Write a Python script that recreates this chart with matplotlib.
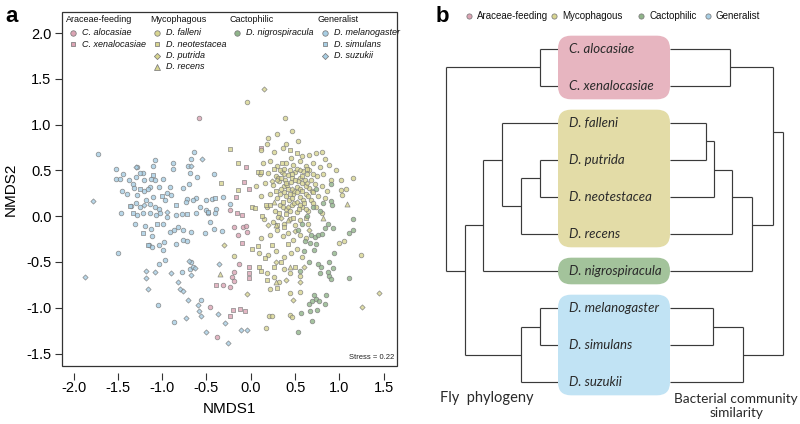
import numpy as np
import matplotlib.pyplot as plt
from matplotlib.patches import FancyBboxPatch, Rectangle

# =====================================================
# DATA  (panel a: NMDS scores)
# =====================================================

alocasiae = [(-0.58, 1.07), (-0.19, -0.12), (-0.14, -0.21), (-0.09, -0.12), (-0.05, -0.11),
             (-0.04, -0.17), (-0.13, -0.52), (-0.19, -0.61), (-0.21, -0.66), (-0.19, -0.71),
             (-0.31, -0.75), (-0.24, -0.77), (-0.46, -0.99), (-0.38, -1.32), (-0.24, 0.07)]

xenalocasiae = [(0.11, 0.75), (-0.05, 0.54), (-0.08, 0.37), (-0.02, 0.30), (-0.17, 0.21),
                (-0.15, 0.04), (-0.10, 0.01), (-0.10, -0.29), (-0.02, -0.55), (-0.02, -0.62),
                (-0.02, -0.68), (-0.39, -0.75), (-0.20, -1.02), (-0.12, -1.01), (-0.06, -1.03),
                (-0.24, -1.09)]

falleni = [(-0.04, 1.25), (0.39, 1.07), (0.30, 0.90), (0.47, 0.93), (0.20, 0.85), (0.53, 0.82),
           (0.18, 0.79), (0.40, 0.79),
           (0.12, 0.72), (0.26, 0.70), (0.36, 0.74), (0.58, 0.66), (0.66, 0.67), (0.74, 0.69),
           (0.80, 0.70), (0.84, 0.62), (0.45, 0.64),
           (0.14, 0.58), (0.22, 0.60), (0.30, 0.55), (0.40, 0.58), (0.48, 0.56), (0.56, 0.60),
           (0.62, 0.55), (0.70, 0.58), (0.78, 0.54), (0.88, 0.56), (0.96, 0.50),
           (0.10, 0.46), (0.20, 0.47), (0.28, 0.44), (0.35, 0.48), (0.42, 0.45), (0.50, 0.48),
           (0.55, 0.42), (0.63, 0.46), (0.68, 0.40), (0.75, 0.44), (0.82, 0.46), (0.90, 0.40),
           (1.02, 0.39), (1.15, 0.42),
           (0.06, 0.33), (0.16, 0.36), (0.25, 0.34), (0.32, 0.38), (0.38, 0.33), (0.45, 0.37),
           (0.52, 0.32), (0.58, 0.36), (0.66, 0.31), (0.72, 0.35), (0.80, 0.33), (0.86, 0.28),
           (1.02, 0.29), (1.08, 0.30),
           (0.12, 0.22), (0.22, 0.24), (0.30, 0.20), (0.37, 0.26), (0.43, 0.18), (0.48, 0.24),
           (0.55, 0.21), (0.62, 0.24), (0.68, 0.18), (0.76, 0.22), (0.84, 0.20), (1.03, 0.23),
           (0.18, 0.10), (0.27, 0.06), (0.33, 0.12), (0.40, 0.08), (0.46, 0.12), (0.52, 0.05),
           (0.58, 0.10), (0.65, 0.06), (0.74, 0.10), (0.80, 0.04),
           (0.15, -0.03), (0.25, -0.06), (0.31, -0.01), (0.38, -0.08), (0.44, -0.03),
           (0.50, -0.10), (0.56, -0.04), (0.65, -0.08),
           (0.12, -0.24), (0.22, -0.20), (0.30, -0.15), (0.36, -0.22), (0.42, -0.18),
           (0.48, -0.26), (0.55, -0.20), (0.62, -0.24), (0.99, -0.29), (1.05, -0.27),
           (-0.19, -0.43), (0.09, -0.40), (0.20, -0.42), (0.28, -0.38), (0.37, -0.45),
           (0.45, -0.40), (0.52, -0.36), (0.58, -0.45), (1.24, -0.42),
           (0.18, -0.62), (0.26, -0.66), (0.38, -0.58), (0.44, -0.62), (0.56, -0.65),
           (0.44, -0.84), (0.56, -0.83), (0.22, -0.80), (0.32, -0.72),
           (0.17, -1.22), (0.21, -1.09), (0.24, -1.09), (0.44, -1.08), (0.46, -1.10),
           # dense core
           (0.33, 0.50), (0.38, 0.52), (0.44, 0.50), (0.52, 0.52), (0.59, 0.49), (0.66, 0.50),
           (0.31, 0.42), (0.39, 0.40), (0.47, 0.42), (0.53, 0.38), (0.61, 0.40), (0.70, 0.46),
           (0.34, 0.30), (0.41, 0.34), (0.49, 0.28), (0.56, 0.30), (0.62, 0.33), (0.69, 0.28),
           (0.33, 0.24), (0.40, 0.22), (0.46, 0.20), (0.52, 0.26), (0.59, 0.18), (0.65, 0.22),
           (0.36, 0.10), (0.44, 0.06), (0.49, 0.14), (0.56, 0.12), (0.62, 0.08), (0.70, 0.14)]

neotestacea = [(-0.24, 0.73), (-0.14, 0.58), (-0.34, 0.36), (-0.14, 0.29), (0.01, 0.10),
               (0.05, 0.09), (0.17, 0.12), (0.13, 0.00), (0.08, 0.48), (0.11, 0.48),
               (0.44, 0.72), (0.52, 0.69), (0.26, 0.52), (0.34, 0.42), (0.42, 0.30),
               (0.50, 0.40), (0.58, 0.28), (0.36, 0.16), (0.44, 0.24), (0.28, 0.28),
               (0.60, 0.14), (0.22, 0.12), (0.40, 0.02), (0.30, -0.10), (0.48, -0.02),
               (0.08, -0.33), (0.16, -0.46), (0.01, -0.36), (0.09, -0.55), (0.12, -0.60),
               (0.18, -0.70), (0.26, -0.56), (0.30, -0.78), (0.34, -0.50), (0.42, -0.30),
               (0.50, -0.55), (0.24, -0.32), (0.38, -0.12), (0.62, -0.02), (0.70, 0.26),
               (0.35, 0.58), (0.64, 0.52), (0.46, 0.46), (0.40, 0.36), (0.54, 0.08),
               (0.32, 0.04), (0.58, 0.44)]

putrida = [(0.15, 1.39), (-0.30, -0.32), (-0.04, -0.85), (0.55, -0.72), (0.48, -0.92),
           (1.45, -0.84), (1.26, -0.99), (0.30, 0.40), (0.46, 0.30), (0.38, 0.46),
           (0.56, 0.50), (0.24, 0.38), (0.64, 0.36), (0.42, 0.10), (0.52, 0.16),
           (0.34, -0.02), (0.50, -0.16), (0.20, -0.10), (0.66, -0.15), (0.28, -0.50),
           (0.40, -0.70), (0.60, -0.55)]

recens = [(-0.35, -0.63), (1.09, 0.13), (0.29, -0.72), (0.28, -0.10), (0.42, -0.04),
          (0.26, 0.16), (0.44, -0.55), (0.82, -0.02)]

nigrospiracula = [(0.53, -0.15), (0.61, -0.27), (0.67, -0.29), (0.68, -0.21), (0.72, -0.23),
                  (0.76, -0.21), (0.80, -0.19), (0.74, -0.30), (0.84, -0.13), (0.87, -0.08),
                  (0.93, -0.13), (0.71, -0.37), (0.66, -0.50), (0.76, -0.52), (0.79, -0.55),
                  (0.88, -0.50), (0.78, -0.62), (0.87, -0.61), (0.88, -0.65), (0.93, -0.57),
                  (0.94, -0.40), (0.90, -0.69), (1.11, -0.67), (0.71, -0.86), (0.74, -0.90),
                  (0.69, -0.93), (0.66, -0.96), (0.77, -0.93), (0.85, -0.86), (0.84, -0.96),
                  (0.75, -1.02), (0.67, -1.03), (0.57, -1.06), (0.69, -1.14), (0.53, -1.26),
                  (1.11, -0.18), (1.15, -0.15), (1.15, -0.03), (0.92, 0.12), (0.91, 0.35),
                  (0.91, 0.17), (0.70, 0.10), (0.78, 0.06), (0.64, 0.00), (0.58, -0.08),
                  (0.82, 0.14), (0.74, 0.30), (0.60, -0.38), (0.56, -0.60)]

melanogaster = [(-1.72, 0.68),
                (-1.52, 0.51), (-1.28, 0.54), (-1.08, 0.61), (-1.10, 0.55), (-1.22, 0.47),
                (-0.88, 0.58), (-0.88, 0.52), (-0.71, 0.55), (-0.67, 0.62), (-0.64, 0.70),
                (-0.41, 0.46),
                (-1.52, 0.41), (-1.47, 0.41), (-1.44, 0.46), (-1.37, 0.40), (-1.33, 0.35),
                (-1.30, 0.43), (-1.25, 0.47), (-1.20, 0.40), (-1.13, 0.41), (-1.08, 0.40),
                (-0.99, 0.41), (-1.14, 0.32), (-1.03, 0.32), (-0.91, 0.32), (-0.69, 0.47),
                (-0.61, 0.43), (-0.77, 0.31), (-0.70, 0.35),
                (-1.45, 0.28), (-1.40, 0.24), (-1.32, 0.31), (-1.28, 0.23), (-1.21, 0.27),
                (-1.16, 0.30), (-1.18, 0.18), (-1.10, 0.21), (-0.95, 0.25), (-0.90, 0.23),
                (-0.97, 0.18), (-0.72, 0.19), (-0.62, 0.20), (-0.51, 0.18), (-0.44, 0.19),
                (-0.31, 0.21), (-0.24, 0.13),
                (-1.35, 0.11), (-1.30, 0.14), (-1.25, 0.10), (-1.14, 0.13), (-1.08, 0.10),
                (-1.03, 0.08), (-0.73, 0.16), (-0.65, 0.18), (-0.57, 0.10), (-0.50, 0.07),
                (-0.39, 0.08),
                (-1.46, 0.04), (-1.28, 0.01), (-1.22, 0.03), (-1.14, 0.04), (-1.07, 0.01),
                (-1.02, 0.03), (-0.94, -0.01), (-0.84, 0.01), (-0.78, 0.02), (-0.62, 0.03),
                (-0.48, 0.03), (-0.40, 0.04),
                (-1.31, -0.08), (-1.19, -0.11), (-1.13, -0.14), (-0.99, -0.08), (-0.91, -0.17),
                (-0.87, -0.15), (-0.82, -0.12), (-0.77, -0.15), (-0.67, -0.17), (-0.52, -0.18),
                (-0.46, -0.06), (-0.41, -0.14), (-0.33, -0.16),
                (-1.11, -0.22), (-1.15, -0.31), (-1.03, -0.31), (-0.98, -0.28), (-0.84, -0.30),
                (-0.77, -0.26), (-0.72, -0.27), (-1.50, -0.40),
                (-1.11, -0.34), (-0.99, -0.37), (-0.97, -0.48), (-1.04, -0.52), (-0.78, -0.61),
                (-0.69, -0.58), (-0.67, -0.50), (-0.65, -0.55), (-0.56, -0.91), (-1.05, -0.97),
                (-0.87, -1.16)]

simulans = [(-1.36, 0.11), (-1.33, 0.04), (-1.22, -0.18), (-1.16, -0.31), (-1.06, -0.08),
            (-1.25, 0.30), (-1.00, 0.22), (-0.84, 0.12), (-0.48, 0.05), (-1.10, 0.45),
            (-0.72, 0.02), (-0.40, 0.20)]

suzukii = [(-1.87, -0.66), (-1.78, 0.17), (-0.55, 0.63), (-1.08, -0.61), (-1.18, -0.60),
           (-1.18, -0.68), (-1.16, -0.80), (-0.90, -0.62), (-0.70, -0.49), (-0.63, -0.57),
           (-0.68, -0.64), (-0.82, -0.72), (-0.80, -0.79), (-0.76, -0.82), (-0.71, -0.92),
           (-0.60, -0.97), (-0.58, -1.03), (-0.56, -1.09), (-0.73, -1.11), (-0.50, -1.26),
           (-0.29, -1.17), (-0.26, -1.39), (-0.37, -1.07), (-0.11, -1.24), (-0.04, -1.24),
           (-0.36, -0.52), (-1.30, 0.54), (-0.68, 0.55), (-1.20, 0.12), (-0.95, 0.05)]

groups = ["Araceae-feeding", "Mycophagous", "Cactophilic", "Generalist"]
group_col = ["#dca4b4", "#d8d590", "#8fb489", "#a7cee4"]
box_col = ["#e7b5c0", "#e3dca7", "#a3c39b", "#c1e3f4"]

# (group index, label, marker, points)
species = [
    (0, "C. alocasiae", "o", alocasiae),
    (0, "C. xenalocasiae", "s", xenalocasiae),
    (1, "D. falleni", "o", falleni),
    (1, "D. neotestacea", "s", neotestacea),
    (1, "D. putrida", "D", putrida),
    (1, "D. recens", "^", recens),
    (2, "D. nigrospiracula", "o", nigrospiracula),
    (3, "D. melanogaster", "o", melanogaster),
    (3, "D. simulans", "s", simulans),
    (3, "D. suzukii", "D", suzukii),
]
marker_size = {"o": 11, "s": 9, "D": 7, "^": 13}

x_ticks = [-2.0, -1.5, -1.0, -0.5, 0.0, 0.5, 1.0, 1.5]
y_ticks = [-1.5, -1.0, -0.5, 0.0, 0.5, 1.0, 1.5, 2.0]
stress = 0.22

# panel b: leaves (top to bottom) and the two trees
leaf_names = ["C. alocasiae", "C. xenalocasiae", "D. falleni", "D. putrida",
              "D. neotestacea", "D. recens", "D. nigrospiracula",
              "D. melanogaster", "D. simulans", "D. suzukii"]
leaf_group = [0, 0, 1, 1, 1, 1, 2, 3, 3, 3]

# node: (child, child, level, y where it joins its parent)
fly_tree = {
    "ara": (0, 1, 5, 0.5),
    "pn": (3, 4, 5, 3.5),
    "pnr": ("pn", 5, 4, 4.24),
    "myc": (2, "pnr", 3, 3.0),
    "mc": ("myc", 6, 2, 4.76),
    "ms": (7, 8, 5, 7.5),
    "gen": ("ms", 9, 4, 8.27),
    "rest": ("mc", "gen", 1, 6.0),
    "root": ("ara", "rest", 0, None),
}

# node: (child, child, distance, y where it joins its parent)
bact_tree = {
    "ara": (0, 1, 60, 0.5),
    "fp": (2, 3, 36, 2.5),
    "fpn": ("fp", 4, 44, 3.27),
    "myc": ("fpn", 5, 62, 4.0),
    "mc": ("myc", 6, 82, 4.76),
    "top": ("ara", "mc", 103, 2.24),
    "ms": (7, 8, 43, 7.5),
    "gen": ("ms", 9, 73, 8.27),
    "root": ("top", "gen", 113, None),
}

# =====================================================
# FIGURE
# =====================================================

plt.rcParams["font.family"] = ["Liberation Sans", "DejaVu Sans"]

fig = plt.figure(figsize=(8, 4.24), dpi=100)

# ---------------- panel a ----------------
ax = fig.add_axes([0.0775, 0.1368, 0.41875, 0.8349])

for g, name, m, pts in species:
    p = np.array(pts)
    ax.scatter(p[:, 0], p[:, 1], s=marker_size[m], marker=m,
               facecolor=group_col[g], edgecolor="#7a7a7a", linewidth=0.55,
               alpha=0.8, zorder=3)

ax.set_xlim(-2.13, 1.65)
ax.set_ylim(-1.636, 2.23)
ax.set_xticks(x_ticks)
ax.set_yticks(y_ticks)
ax.set_xticklabels([f"{v:.1f}" for v in x_ticks])
ax.set_yticklabels([f"{v:.1f}" for v in y_ticks])
ax.tick_params(axis="both", direction="out", length=5, width=0.8,
               labelsize=10.5, color="#333333")
ax.tick_params(axis="x", pad=1)
ax.tick_params(axis="y", pad=2.5)

# R style: ticks below a detached x axis, full box around plot
ax.spines["bottom"].set_position(("outward", 5))
ax.spines["bottom"].set_color("none")
for s in ["top", "right", "left"]:
    ax.spines[s].set_visible(False)
ax.add_patch(Rectangle((0, 0), 1, 1, transform=ax.transAxes, fill=False,
                       edgecolor="#333333", linewidth=0.9, clip_on=False, zorder=5))

ax.set_xlabel("NMDS1", fontsize=11, labelpad=5)
ax.set_ylabel("NMDS2", fontsize=11, labelpad=6)

ax.text(0.991, 0.025, f"Stress = {stress}", transform=ax.transAxes,
        ha="right", va="center", fontsize=5.5, color="#222222")

# legend in four columns
col_x = [0.012, 0.263, 0.501, 0.764]
for g, gname in enumerate(groups):
    ax.text(col_x[g], 0.980, gname, transform=ax.transAxes, fontsize=6.5,
            ha="left", va="center", color="#111111")
    rows = [sp for sp in species if sp[0] == g]
    for r, (_, name, m, _) in enumerate(rows):
        yy = 0.941 - r * 0.032
        ax.scatter([col_x[g] + 0.022], [yy], s=marker_size[m] * 1.4, marker=m,
                   facecolor=group_col[g], edgecolor="#7a7a7a", linewidth=0.55,
                   transform=ax.transAxes, clip_on=False, zorder=4)
        ax.text(col_x[g] + 0.048, yy, name, transform=ax.transAxes,
                fontsize=6.5, style="italic", ha="left", va="center",
                color="#111111")

fig.text(5 / 800, 1 - 16 / 424, "a", fontsize=16, fontweight="bold",
         ha="left", va="center")

# ---------------- panel b ----------------
bx = fig.add_axes([0.5, 0.0, 0.5, 1.0])
bx.set_xlim(400, 800)
bx.set_ylim(10.135, -1.324)
bx.axis("off")

BOX_L, BOX_R = 558, 670
FLY_ROOT, FLY_STEP = 446, 18.7
line_kw = dict(color="#3a3a3a", linewidth=0.85, solid_capstyle="butt")


def draw_tree(tree, node_x, leaf_x):
    def pos(c):
        if isinstance(c, int):
            return leaf_x, c
        return node_x(tree[c][2]), tree[c][3]

    for key, (a, b, h, _) in tree.items():
        x0 = node_x(h)
        (xa, ya), (xb, yb) = pos(a), pos(b)
        bx.plot([x0, x0], [ya, yb], **line_kw)
        bx.plot([x0, xa], [ya, ya], **line_kw)
        bx.plot([x0, xb], [yb, yb], **line_kw)


draw_tree(fly_tree, lambda lv: FLY_ROOT + lv * FLY_STEP, BOX_L)
draw_tree(bact_tree, lambda d: BOX_R + d, BOX_R)

# coloured group boxes
pad = 0.36
for g in range(len(groups)):
    idx = [i for i, lg in enumerate(leaf_group) if lg == g]
    top, bot = min(idx) - pad, max(idx) + pad
    bx.add_patch(FancyBboxPatch((BOX_L, top), BOX_R - BOX_L, bot - top,
                                boxstyle="round,pad=0,rounding_size=13",
                                mutation_aspect=1 / 37,
                                facecolor=box_col[g], edgecolor="none", zorder=3))

for i, name in enumerate(leaf_names):
    bx.text(BOX_L + 11, i, name, fontsize=9.5, style="italic",
            family=["Lato", "DejaVu Sans"], ha="left", va="center",
            color="#2a2a2a", zorder=4)

# legend row
leg_x = [469, 554, 641, 708]
for g, gname in enumerate(groups):
    bx.scatter([leg_x[g]], [-0.89], s=14, marker="o", facecolor=group_col[g],
               edgecolor="#7a7a7a", linewidth=0.55, clip_on=False)
    bx.text(leg_x[g] + 8, -0.89, gname, fontsize=7, ha="left", va="center",
            color="#111111")

bx.text(436, -0.89, "b", fontsize=16, fontweight="bold", ha="left", va="center")

bx.text(440, 9.43, "Fly  phylogeny", fontsize=10.5, family=["Lato", "DejaVu Sans"],
        ha="left", va="center", color="#2a2a2a")
bx.text(736, 9.66, "Bacterial community\nsimilarity", fontsize=9.8,
        family=["Lato", "DejaVu Sans"], ha="center", va="center",
        linespacing=1.2, color="#2a2a2a")

fig.savefig("out.png", dpi=100)
